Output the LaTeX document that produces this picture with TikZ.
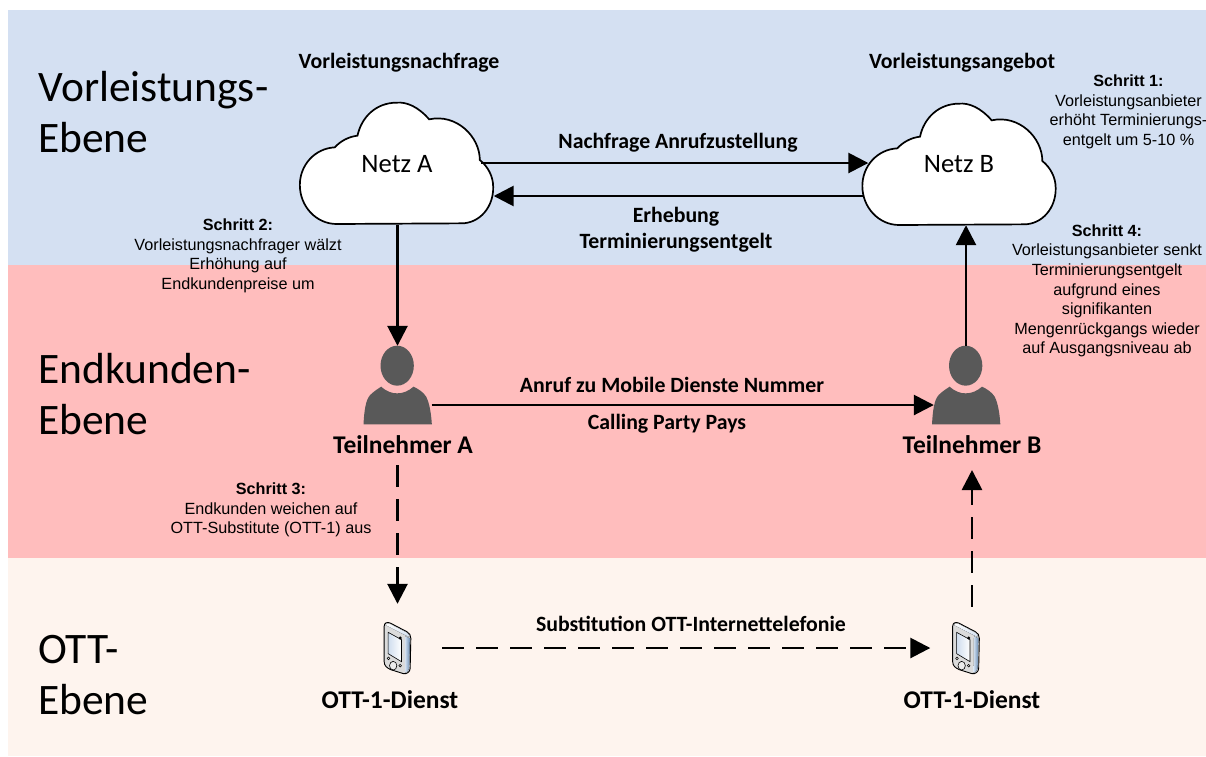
\documentclass[tikz,border=0pt]{standalone}
\usepackage{fontspec}
\setmainfont{Carlito}
\newfontfamily\arialf{Liberation Sans}
\usetikzlibrary{arrows.meta,shadings}
\definecolor{bandblue}{HTML}{D4E0F2}
\definecolor{bandpink}{HTML}{FFBDBD}
\definecolor{bandcream}{HTML}{FEF4EE}
\definecolor{persongray}{HTML}{595959}
\definecolor{phonelight}{HTML}{CFDDEE}
\definecolor{phonesteel}{HTML}{6C8EB4}
\tikzset{
  levellabel/.style={font=\fontsize{43.5}{51}\selectfont,align=left,anchor=west,inner sep=0pt,text=black},
  boldlabel/.style={font=\fontsize{21.8}{26}\selectfont\bfseries,align=center,inner sep=0pt,text=black},
  namelabel/.style={boldlabel,font=\fontsize{25.5}{30}\selectfont\bfseries},
  notelabel/.style={font=\arialf\fontsize{16.2}{19.6}\selectfont,align=center,inner sep=0pt,text=black},
  cloudbox/.style={inner sep=0pt,minimum width=193pt,minimum height=122pt,font=\fontsize{26.6}{30}\selectfont},
  personbox/.style={inner sep=0pt,minimum width=68pt,minimum height=78pt},
  phonebox/.style={inner sep=0pt,minimum width=27pt,minimum height=54pt},
  flow/.style={line width=2.7pt,draw=black,-{Triangle[length=20pt,width=20pt]}},
  dashflow/.style={flow,dash pattern=on 22pt off 12pt},
}
\newcommand{\cloudshape}[2]{%
  \begin{scope}[shift={(#1,#2)},x=0.3333pt,y=-0.3333pt]
  \draw[fill=white,draw=black,line width=1.7pt,shift={(-320,-219)}]
   (140,402) -- (515,400) .. controls (570,400) and (612,350) .. (610,290)
   .. controls (610,260) and (595,230) .. (570,210)
   .. controls (570,140) and (500,70) .. (418,88)
   .. controls (385,50) and (350,35) .. (320,38)
   .. controls (260,38) and (215,80) .. (203,137)
   .. controls (175,140) and (150,155) .. (135,172)
   .. controls (75,175) and (30,225) .. (30,285)
   .. controls (30,350) and (80,402) .. (140,402) -- cycle;
  \end{scope}}
\newcommand{\personshape}[1]{%
  \begin{scope}[shift={(#1)},x=0.3333pt,y=-0.3333pt,shift={(-142,-150)}]
  \fill[persongray] (141,92) ellipse [x radius=50,y radius=60];
  \fill[persongray] (40,268) .. controls (42,230) and (46,195) .. (60,180)
    .. controls (70,170) and (82,162) .. (93,155)
    .. controls (110,170) and (125,175) .. (141,175)
    .. controls (160,175) and (175,168) .. (190,155)
    .. controls (205,162) and (220,172) .. (228,185)
    .. controls (238,205) and (243,235) .. (245,268) -- cycle;
  \end{scope}}
\newcommand{\phoneshape}[1]{%
  \begin{scope}[shift={(#1)},x=0.3333pt,y=-0.3333pt,shift={(-110,-115)}]
  \draw[fill=gray!28,draw=black,line width=0.9pt,line join=round]
    (70,50) .. controls (70,40) and (78,36) .. (88,40) -- (138,66)
    .. controls (146,71) and (150,76) .. (150,86) -- (148,176)
    .. controls (148,186) and (138,194) .. (128,192) -- (90,180)
    .. controls (78,175) and (70,168) .. (70,156) -- cycle;
  \fill[top color=white,bottom color=phonelight] (74,46) .. controls (76,40) and (84,40) .. (88,43)
    -- (138,69) .. controls (142,72) and (145,76) .. (146,82) -- (132,76) -- cycle;
  \fill[left color=phonelight,right color=phonesteel] (134,80) -- (147,86) -- (145,176) .. controls (144,184) and (138,188) .. (133,189) -- cycle;
  \draw[black,line width=0.6pt,left color=phonelight,right color=white] (82,68) -- (122,90) -- (122,156) -- (82,132) -- cycle;
  \fill[black] (118,85) circle [radius=5];
  \draw[fill=gray!15,line width=0.6pt] (97,168) ellipse [x radius=11,y radius=13];
  \draw[fill=gray!15,line width=0.5pt] (83,146) circle [radius=4];
  \draw[fill=gray!15,line width=0.5pt] (118,168) circle [radius=4];
  \end{scope}}
\begin{document}
\begin{tikzpicture}[x=1pt,y=-1pt]
\useasboundingbox (0,0) rectangle (1206,756);
% bands
\fill[white] (0,0) rectangle (1206,756);
\fill[bandblue] (8,10) rectangle (1206,265);
\fill[bandpink] (8,265) rectangle (1206,558);
\fill[bandcream] (8,558) rectangle (1206,756);
% level labels
\node[levellabel] (lvlV) at (38,112) {Vorleistungs-\\Ebene};
\node[levellabel] (lvlE) at (38,394) {Endkunden-\\Ebene};
\node[levellabel] (lvlO) at (38,675) {OTT-\\Ebene};
% headings
\node[boldlabel] (hdA) at (399,63) {Vorleistungsnachfrage};
\node[boldlabel] (hdB) at (962,63) {Vorleistungsangebot};
% clouds
\cloudshape{396.5}{163}
\cloudshape{959}{164}
\node[cloudbox] (netzA) at (397,164) {Netz A};
\node[cloudbox] (netzB) at (959,164) {Netz B};
% persons
\node[personbox] (personA) at (397.5,385) {};
\node[personbox] (personB) at (966,385) {};
\personshape{personA.center}
\personshape{personB.center}
\node[namelabel] (teilA) at (403,445) {Teilnehmer A};
\node[namelabel] (teilB) at (972,445) {Teilnehmer B};
% phones
\node[phonebox] (phoneA) at (397.5,648) {};
\node[phonebox] (phoneB) at (966,648) {};
\phoneshape{phoneA.center}
\phoneshape{phoneB.center}
\node[namelabel] (ottA) at (390,700) {OTT-1-Dienst};
\node[namelabel] (ottB) at (972,700) {OTT-1-Dienst};
% connectors
\draw[flow] ([xshift=-13pt,yshift=1pt]netzA.east) -- ([xshift=6pt,yshift=1pt]netzB.west);
\draw[flow] ([xshift=2pt,yshift=-32pt]netzB.west) -- ([yshift=-32pt]netzA.east);
\draw[flow] (personA.north |- netzA.south) -- (personA.north);
\draw[flow] (personB.north) -- (personB.north |- netzB.south);
\draw[flow] (personA.east |- 0,405) -- ([xshift=2pt]personB.west |- 0,405);
\draw[dashflow] (phoneA.north |- 0,465) -- ([yshift=17pt]phoneA.north);
\draw[dashflow] ([xshift=6pt,yshift=14pt]phoneB.north) -- ([xshift=6pt]phoneB.north |- 0,470);
\draw[dashflow] ([xshift=31pt]phoneA.east) -- ([xshift=-22pt]phoneB.west);
% connector labels
\node[boldlabel] (lbl1) at (678,143) {Nachfrage Anrufzustellung};
\node[boldlabel] (lbl2) at (676,230) {Erhebung\\Terminierungsentgelt};
\node[boldlabel] (lbl3) at (672,385) {Anruf zu Mobile Dienste Nummer};
\node[boldlabel] (lbl4) at (667,424) {Calling Party Pays};
\node[boldlabel] (lbl5) at (691,624) {Substitution OTT-Internettelefonie};
% notes
\node[notelabel] (s1) at (1128.5,112) {\textbf{Schritt 1:}\\Vorleistungsanbieter\\erhöht Terminierungs-\\entgelt um 5-10 \%};
\node[notelabel] (s2) at (238,256) {\textbf{Schritt 2:}\\Vorleistungsnachfrager wälzt\\Erhöhung auf\\Endkundenpreise um};
\node[notelabel] (s3) at (271,510) {\textbf{Schritt 3:}\\Endkunden weichen auf\\OTT-Substitute (OTT-1) aus};
\node[notelabel] (s4) at (1107,291) {\textbf{Schritt 4:}\\Vorleistungsanbieter senkt\\Terminierungsentgelt\\aufgrund eines\\signifikanten\\Mengenrückgangs wieder\\auf Ausgangsniveau ab};
\end{tikzpicture}
\end{document}
